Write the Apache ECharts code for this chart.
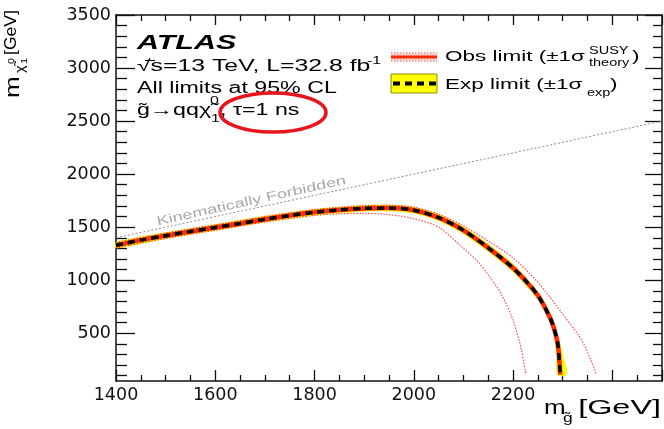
<!DOCTYPE html>
<html>
<head>
<meta charset="utf-8">
<script src="https://cdn.jsdelivr.net/npm/echarts@6/dist/echarts.min.js"></script>
<style>html,body{margin:0;padding:0;background:#fff;}#c{width:664px;height:429px;}</style>
</head>
<body>
<div id="c"></div>
<script>
// ---- axis ticks / labels ----
const xTicks = [1400, 1600, 1800, 2000, 2200, 2400];
const yTicks = [500, 1000, 1500, 2000, 2500, 3000, 3500];
const yMinorTicks = [100,200,300,400,600,700,800,900,1100,1200,1300,1400,1600,1700,1800,1900,2100,2200,2300,2400,2600,2700,2800,2900,3100,3200,3300,3400];

// ---- kinematic limit m_chi = m_gluino ----
const kinX = [1400, 2500];
const kinY = [1400, 2500];

// ---- expected limit (nominal) ----
const expX = [1400,1450,1500,1550,1600,1650,1700,1750,1800,1850,1900,1950,2000,2050,2100,2150,2200,2230,2250,2270,2280,2290,2295];
const expY = [1330,1378,1420,1460,1497,1535,1575,1610,1640,1662,1677,1680,1660,1590,1470,1305,1115,970,855,690,580,400,110];

// ---- expected +-1 sigma band edges ----
const expUpX = [1400,1500,1600,1700,1800,1900,1950,2000,2050,2100,2150,2200,2250,2270,2285,2300,2308];
const expUpY = [1357,1447,1524,1602,1667,1704,1707,1688,1620,1502,1340,1152,892,732,560,300,110];
const expDownX = [1400,1500,1600,1700,1800,1900,1950,2000,2050,2100,2150,2200,2250,2270,2282,2287,2290];
const expDownY = [1303,1393,1470,1548,1613,1650,1653,1632,1560,1438,1270,1078,818,648,500,330,110];

// ---- observed limit (nominal) ----
const obsX = [1400,1450,1500,1550,1600,1650,1700,1750,1800,1850,1900,1950,2000,2050,2100,2150,2200,2230,2250,2270,2280,2290,2295];
const obsY = [1330,1378,1420,1460,1497,1535,1575,1610,1640,1662,1677,1680,1660,1590,1470,1305,1115,970,855,690,580,400,110];

// ---- observed +-1 sigma theory ----
const obsUpX = [1400,1500,1600,1700,1800,1900,1950,2000,2050,2100,2150,2200,2250,2300,2340,2368];
const obsUpY = [1356,1446,1523,1601,1666,1703,1707,1688,1622,1512,1370,1210,980,680,420,110];
const obsDownX = [1400,1500,1600,1700,1800,1850,1900,1950,2000,2050,2100,2130,2150,2175,2200,2215,2226];
const obsDownY = [1304,1394,1471,1549,1610,1626,1630,1618,1580,1500,1300,1170,1050,880,620,380,110];

function pairs(xs, ys) { return xs.map((x, i) => [x, ys[i]]); }

const S = 1.45; // horizontal text stretch of the original
const FONT = '"Liberation Sans", Arial, sans-serif';
function T(x, y, text, size, opt) {
  opt = opt || {};
  return {
    type: 'text', x: x, y: y, scaleX: opt.sx !== undefined ? opt.sx : S, scaleY: opt.sy || 1,
    rotation: opt.rot || 0, z: 100, silent: true,
    style: {
      text: text,
      font: (opt.style || '') + ' ' + (opt.weight || '') + ' ' + size + 'px ' + FONT,
      fill: opt.color || '#000',
      textAlign: opt.align || 'left', align: opt.align || 'left',
      textVerticalAlign: 'middle', verticalAlign: 'middle'
    }
  };
}

const chart = echarts.init(document.getElementById('c'), null, { renderer: 'canvas' });

const axisLineStyle = { color: '#111', width: 1.5 };
const tickStyle = { color: '#111', width: 1.3 };
const labelFont = { fontFamily: '"DejaVu Sans", sans-serif', fontSize: 17.5, color: '#111',
  formatter: function (v) { return String(v); } };
const lineSmooth = 0.3;

const option = {
  animation: false,
  backgroundColor: '#fff',
  grid: { left: 116, right: 2, top: 15, bottom: 48, containLabel: false },
  xAxis: [
    {
      type: 'value', position: 'bottom', min: 1400, max: 2500, interval: 200,
      axisLine: { show: true, lineStyle: axisLineStyle },
      axisTick: { show: true, inside: true, length: 11, lineStyle: tickStyle },
      minorTick: { show: true, splitNumber: 4, length: 6, lineStyle: tickStyle },
      axisLabel: Object.assign({ margin: 5, showMaxLabel: false,
        customValues: xTicks }, labelFont),
      splitLine: { show: false }
    },
    {
      type: 'value', position: 'top', min: 1400, max: 2500, interval: 200,
      axisLine: { show: true, lineStyle: axisLineStyle },
      axisTick: { show: true, inside: true, length: 10, lineStyle: tickStyle },
      minorTick: { show: true, splitNumber: 4, length: 6, lineStyle: tickStyle },
      axisLabel: { show: false },
      splitLine: { show: false }
    }
  ],
  yAxis: [
    {
      type: 'value', position: 'left', min: 50, max: 3500,
      axisLine: { show: true, lineStyle: axisLineStyle },
      axisTick: { show: true, inside: true, length: 19, customValues: yTicks, lineStyle: tickStyle },
      axisLabel: Object.assign({ margin: 5, customValues: yTicks }, labelFont),
      splitLine: { show: false }
    },
    {
      type: 'value', position: 'left', min: 50, max: 3500,
      axisLine: { show: false },
      axisTick: { show: true, inside: true, length: 11, customValues: yMinorTicks, lineStyle: tickStyle },
      axisLabel: { show: false },
      splitLine: { show: false }
    },
    {
      type: 'value', position: 'right', min: 50, max: 3500,
      axisLine: { show: true, lineStyle: axisLineStyle },
      axisTick: { show: true, inside: true, length: 17, customValues: yTicks, lineStyle: tickStyle },
      axisLabel: { show: false },
      splitLine: { show: false }
    },
    {
      type: 'value', position: 'right', min: 50, max: 3500,
      axisLine: { show: false },
      axisTick: { show: true, inside: true, length: 9, customValues: yMinorTicks, lineStyle: tickStyle },
      axisLabel: { show: false },
      splitLine: { show: false }
    }
  ],
  series: [
    {
      type: 'line', name: 'kin', data: pairs(kinX, kinY), symbol: 'none', silent: true,
      lineStyle: { color: '#8c8c8c', width: 1, type: [2, 2] }, z: 1
    },
    {
      type: 'custom', name: 'Exp band', silent: true, z: 2,
      data: [[expX[0], expY[0]]],
      renderItem: function (params, api) {
        const pts = [];
        for (let i = 0; i < expUpX.length; i++) pts.push(api.coord([expUpX[i], expUpY[i]]));
        for (let i = expDownX.length - 1; i >= 0; i--) pts.push(api.coord([expDownX[i], expDownY[i]]));
        return { type: 'polygon', shape: { points: pts, smooth: 0.25 }, style: { fill: '#ffff00', stroke: '#e6e600', lineWidth: 0.5 } };
      }
    },
    {
      type: 'line', name: 'obs up', data: pairs(obsUpX, obsUpY), symbol: 'none', silent: true,
      smooth: lineSmooth,
      lineStyle: { color: 'rgba(255,0,0,0.7)', width: 1.2, type: [1.5, 1.5] }, z: 3
    },
    {
      type: 'line', name: 'obs down', data: pairs(obsDownX, obsDownY), symbol: 'none', silent: true,
      smooth: lineSmooth,
      lineStyle: { color: 'rgba(255,0,0,0.7)', width: 1.2, type: [1.5, 1.5] }, z: 3
    },
    {
      type: 'line', name: 'Obs limit', data: pairs(obsX, obsY), symbol: 'none', silent: true,
      smooth: lineSmooth,
      lineStyle: { color: '#ff2a00', width: 4.5 }, z: 4
    },
    {
      type: 'line', name: 'Exp limit', data: pairs(expX, expY), symbol: 'none', silent: true,
      smooth: lineSmooth,
      lineStyle: { color: '#000', width: 3.5, type: [7, 5] }, z: 5
    }
  ],
  graphic: { elements: [
    // ATLAS block
    T(137, 51 - 0.35 * 21, 'ATLAS', 21, { style: 'italic', weight: 'bold' }),
    T(137, 72 - 0.35 * 16, '\u221As=13 TeV, L=32.8 fb', 16, { sx: 1.55 }),
    { type: 'line', z: 100, silent: true, shape: { x1: 145, y1: 60.5, x2: 155, y2: 60.5 }, style: { stroke: '#000', lineWidth: 1 } },
    T(367, 61, '-1', 11),
    T(137, 94 - 0.35 * 16, 'All limits at 95% CL', 16),
    T(137, 116 - 0.35 * 16, 'g\u0303\u2192qq\u03C7\u0303', 16),
    T(210, 101, '0', 11),
    T(211, 119, '1', 11),
    T(220, 116 - 0.35 * 16, ', \u03C4=1 ns', 16),
    // red ellipse
    { type: 'ellipse', z: 101, silent: true, shape: { cx: 273, cy: 112.5, rx: 53, ry: 19.5 },
      style: { fill: 'none', stroke: '#e8141b', lineWidth: 3.5 } },
    // legend: obs
    { type: 'line', z: 100, silent: true, shape: { x1: 391, y1: 53, x2: 437, y2: 53 }, style: { stroke: 'rgba(255,0,0,0.8)', lineWidth: 1.2, lineDash: [1.5, 1.5] } },
    { type: 'rect', z: 100, silent: true, shape: { x: 391, y: 54, width: 46, height: 6 }, style: { fill: 'rgba(255,160,160,0.5)' } },
    { type: 'line', z: 100, silent: true, shape: { x1: 391, y1: 57, x2: 437, y2: 57 }, style: { stroke: '#ff2a00', lineWidth: 3 } },
    { type: 'line', z: 100, silent: true, shape: { x1: 391, y1: 61, x2: 437, y2: 61 }, style: { stroke: 'rgba(255,0,0,0.8)', lineWidth: 1.2, lineDash: [1.5, 1.5] } },
    T(445, 62 - 0.35 * 15.5, 'Obs limit (\u00B11\u03C3', 15.5),
    T(589, 51, 'SUSY', 10),
    T(589, 63, 'theory', 10),
    T(632, 62 - 0.35 * 15.5, ')', 15.5),
    // legend: exp
    { type: 'rect', z: 100, silent: true, shape: { x: 391, y: 74, width: 46, height: 19 }, style: { fill: '#ffff00', stroke: '#8a8a00', lineWidth: 1 } },
    { type: 'line', z: 101, silent: true, shape: { x1: 393, y1: 83.5, x2: 436, y2: 83.5 }, style: { stroke: '#000', lineWidth: 4, lineDash: [7, 5] } },
    T(445, 90 - 0.35 * 15.5, 'Exp limit (\u00B11\u03C3', 15.5),
    T(587, 93, 'exp', 10),
    T(610, 90 - 0.35 * 15.5, ')', 15.5),
    // kinematically forbidden
    T(157, 222, 'Kinematically Forbidden', 12.5, { rot: 0.217, color: '#a8a8a8' }),
    // x-axis title
    T(661, 415 - 0.35 * 20, '[GeV]', 20, { align: 'right', sx: 1.62 }),
    T(544, 415 - 0.35 * 20, 'm', 20, { sx: 1.3 }),
    T(563, 419, 'g\u0303', 12),
    // y-axis title (rotated)
    T(13, 98, 'm', 20, { rot: Math.PI / 2, sx: 1.3, sy: 1 }),
    T(21, 73, '\u03C7\u0303', 12, { rot: Math.PI / 2, sx: 1.2, sy: 1 }),
    T(12, 64, '0', 9, { rot: Math.PI / 2, sx: 1.2, sy: 1 }),
    T(25, 64, '1', 9, { rot: Math.PI / 2, sx: 1.2, sy: 1 }),
    T(12, 55, '[GeV]', 16, { rot: Math.PI / 2, sx: 1.1, sy: 1 })
  ] }
};
chart.setOption(option);
</script>
</body>
</html>
